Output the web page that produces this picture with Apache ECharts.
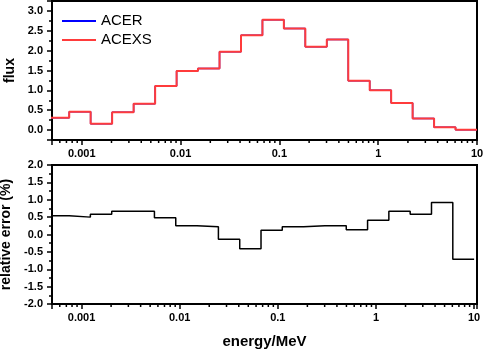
<!DOCTYPE html>
<html>
<head>
<meta charset="utf-8">
<script src="https://cdn.jsdelivr.net/npm/echarts@6/dist/echarts.min.js"></script>
<style>
  html, body { margin: 0; padding: 0; background: #fff; }
  #chart { width: 484px; height: 350px; }
</style>
</head>
<body>
<div id="chart"></div>
<script>
// energy group boundaries (MeV), low -> high
var groupBounds = [0.000454, 0.000747, 0.00123, 0.00203, 0.00335, 0.00553, 0.00912, 0.0150, 0.0248, 0.0409,
                   0.0674, 0.111, 0.183, 0.302, 0.498, 0.821, 1.353, 2.231, 3.679, 6.065, 10];
// flux per group
var fluxACER  = [0.31, 0.46, 0.16, 0.45, 0.66, 1.11, 1.49, 1.55, 1.97, 2.39,
                 2.78, 2.56, 2.10, 2.28, 1.24, 1.00, 0.68, 0.29, 0.07, 0.01];
var fluxACEXS = [0.31, 0.46, 0.16, 0.45, 0.66, 1.11, 1.49, 1.55, 1.97, 2.39,
                 2.78, 2.56, 2.10, 2.28, 1.24, 1.00, 0.68, 0.29, 0.07, 0.01];
// relative error (%) per group
var relError  = [0.54, 0.50, 0.58, 0.67, 0.67, 0.48, 0.25, 0.22, -0.14, -0.41,
                 0.12, 0.22, 0.25, 0.25, 0.14, 0.41, 0.67, 0.58, 0.92, -0.71];
var xTickLabels = ['0.001', '0.01', '0.1', '1', '10'];

var FONT = 'Liberation Sans, Arial, sans-serif';

// step points: lower edge of each group, last point on the upper edge
function stepData(vals) {
    var out = [];
    for (var i = 0; i < vals.length; i++) out.push([groupBounds[i], vals[i]]);
    out.push([groupBounds[groupBounds.length - 1], vals[vals.length - 1]]);
    return out;
}

// minor tick positions for the log axes (2..9 of each decade)
var minorTicks = [];
for (var d = -4; d <= 0; d++) {
    for (var k = 2; k <= 9; k++) {
        var v = k * Math.pow(10, d);
        if (v > 0.0005 && v < 10) minorTicks.push([v, 0]);
    }
}

function logLabel(v) {
    var s = String(Number(v.toPrecision(6)));
    return xTickLabels.indexOf(s) >= 0 ? s : '';
}

function minorTickRender(params, api) {
    var p = api.coord([api.value(0), 0]);
    var cs = params.coordSys;
    var yb = cs.y + cs.height;
    return {
        type: 'line',
        shape: { x1: p[0], y1: yb, x2: p[0], y2: yb + 3 },
        style: { stroke: '#000', lineWidth: 1.5 }
    };
}

var axisLine = { show: true, onZero: false, lineStyle: { color: '#000', width: 2 } };
var axisTick = { show: true, inside: false, length: 5, lineStyle: { color: '#000', width: 1.5 } };
var labelStyle = { color: '#000', fontSize: 11, fontWeight: 'bold', fontFamily: FONT };
var nameStyle = { color: '#000', fontSize: 14, fontWeight: 'bold', fontFamily: FONT };

var chart = echarts.init(document.getElementById('chart'));
chart.setOption({
    animation: false,
    backgroundColor: '#fff',
    legend: {
        data: ['ACER', 'ACEXS'],
        orient: 'vertical',
        left: 57,
        top: 8,
        icon: 'rect',
        itemWidth: 34,
        itemHeight: 2,
        itemGap: 3,
        textStyle: { color: '#000', fontSize: 15, fontFamily: FONT, lineHeight: 16 }
    },
    grid: [
        { left: 52, right: 7, top: 1, height: 139, outerBoundsMode: 'none', containLabel: false,
          show: true, borderColor: '#000', borderWidth: 2 },
        { left: 52, right: 7, top: 165, height: 139, outerBoundsMode: 'none', containLabel: false,
          show: true, borderColor: '#000', borderWidth: 2 }
    ],
    xAxis: [
        {
            type: 'log', gridIndex: 0, min: 0.0005, max: 10,
            axisLine: axisLine, axisTick: axisTick, splitLine: { show: false },
            axisLabel: Object.assign({ margin: 8, formatter: logLabel }, labelStyle)
        },
        {
            type: 'log', gridIndex: 1, min: 0.0005, max: 10.7,
            name: 'energy/MeV', nameLocation: 'middle', nameGap: 30,
            nameTextStyle: Object.assign({}, nameStyle, { fontSize: 15 }),
            axisLine: axisLine, axisTick: axisTick, splitLine: { show: false },
            axisLabel: Object.assign({ margin: 8, formatter: logLabel }, labelStyle)
        }
    ],
    yAxis: [
        {
            type: 'value', gridIndex: 0, min: -0.25, max: 3.25, splitNumber: 7,
            name: 'flux', nameLocation: 'middle', nameGap: 32, nameTextStyle: nameStyle,
            axisLine: axisLine, axisTick: axisTick, splitLine: { show: false },
            minorTick: { show: true, splitNumber: 2, length: 3, lineStyle: { color: '#000', width: 1.5 } },
            axisLabel: Object.assign({
                margin: 9,
                formatter: function (v) {
                    return Math.abs(v * 2 - Math.round(v * 2)) < 1e-6 ? v.toFixed(1) : '';
                }
            }, labelStyle)
        },
        {
            type: 'value', gridIndex: 1, min: -2, max: 2, interval: 0.5,
            name: 'relative error (%)', nameLocation: 'middle', nameGap: 33, nameTextStyle: nameStyle,
            axisLine: axisLine, axisTick: axisTick, splitLine: { show: false },
            minorTick: { show: true, splitNumber: 2, length: 3, lineStyle: { color: '#000', width: 1.5 } },
            axisLabel: Object.assign({
                margin: 9,
                formatter: function (v) { return v.toFixed(1); }
            }, labelStyle)
        }
    ],
    series: [
        {
            name: 'ACER', type: 'line', xAxisIndex: 0, yAxisIndex: 0,
            step: 'end', symbol: 'none', color: '#0000ff',
            lineStyle: { color: '#0000ff', width: 1.5 },
            data: stepData(fluxACER)
        },
        {
            name: 'ACEXS', type: 'line', xAxisIndex: 0, yAxisIndex: 0,
            step: 'end', symbol: 'none', color: '#ff3b3b',
            lineStyle: { color: '#ff3b3b', width: 2 },
            data: stepData(fluxACEXS)
        },
        {
            name: 'relative error', type: 'line', xAxisIndex: 1, yAxisIndex: 1,
            step: 'end', symbol: 'none', color: '#000',
            lineStyle: { color: '#000', width: 1.5 },
            data: stepData(relError)
        },
        {
            type: 'custom', xAxisIndex: 0, yAxisIndex: 0, silent: true, clip: false,
            renderItem: minorTickRender, data: minorTicks
        },
        {
            type: 'custom', xAxisIndex: 1, yAxisIndex: 1, silent: true, clip: false,
            renderItem: minorTickRender, data: minorTicks
        }
    ]
});
</script>
</body>
</html>
